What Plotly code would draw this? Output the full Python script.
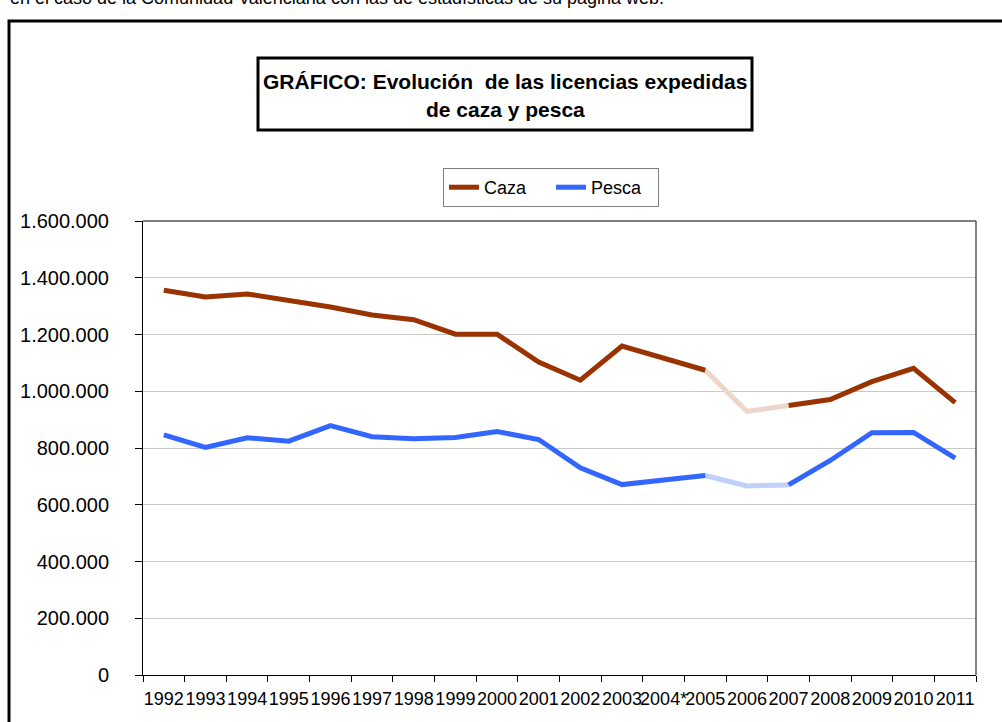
import plotly.graph_objects as go

years = ["1992", "1993", "1994", "1995", "1996", "1997", "1998", "1999", "2000", "2001",
         "2002", "2003", "2004*", "2005", "2006", "2007", "2008", "2009", "2010", "2011"]
caza = [1356000, 1332000, 1343000, 1321000, 1297000, 1269000, 1252000, 1201000, 1201000, 1103000,
        1039000, 1159000, 1117000, 1074000, 929000, 950000, 971000, 1034000, 1081000, 960000]
pesca = [846000, 802000, 836000, 824000, 879000, 840000, 833000, 837000, 858000, 830000,
         730000, 671000, 687000, 703000, 666000, 670000, 756000, 854000, 855000, 764000]
gap_years = ["2006"]
top_note = "en el caso de la Comunidad Valenciana con las de estadísticas de su página web."
title_1 = "GRÁFICO: Evolución  de las licencias expedidas"
title_2 = "de caza y pesca"

W, H = 1002, 722
L, R, T, B = 143, 976, 221, 675


def xp(px):
    return (px - L) / (R - L)


def yp(py):
    return (B - py) / (B - T)


gap_idx = [years.index(g) for g in gap_years]


def solid(vals):
    return [None if i in gap_idx else v for i, v in enumerate(vals)]


def faded(vals):
    keep = set()
    for g in gap_idx:
        keep.update({g - 1, g, g + 1})
    return [v if i in keep else None for i, v in enumerate(vals)]


CAZA_C = "#993300"
PESCA_C = "#3366FF"
FONT = "Liberation Sans, Arial, sans-serif"

fig = go.Figure()
fig.add_trace(go.Scatter(x=years, y=faded(caza), mode="lines", showlegend=False,
                         line=dict(color="#ecd6ca", width=5), hoverinfo="skip"))
fig.add_trace(go.Scatter(x=years, y=faded(pesca), mode="lines", showlegend=False,
                         line=dict(color="#c0d0fb", width=5), hoverinfo="skip"))
fig.add_trace(go.Scatter(x=years, y=solid(caza), mode="lines", name="Caza",
                         line=dict(color=CAZA_C, width=5), connectgaps=False))
fig.add_trace(go.Scatter(x=years, y=solid(pesca), mode="lines", name="Pesca",
                         line=dict(color=PESCA_C, width=5), connectgaps=False))

fig.update_layout(
    width=W, height=H,
    margin=dict(l=L, r=W - R, t=T, b=H - B, pad=0),
    paper_bgcolor="white", plot_bgcolor="white",
    font=dict(family=FONT, size=18, color="black"),
    separators=",.",
    showlegend=True,
    legend=dict(orientation="h", x=xp(443), y=yp(168), xanchor="left", yanchor="top",
                bordercolor="#808080", borderwidth=1, bgcolor="white",
                font=dict(size=18, family=FONT), itemwidth=30,
                entrywidth=62, entrywidthmode="pixels",
                tracegroupgap=0),
    xaxis=dict(type="category", range=[-0.5, len(years) - 0.5], automargin=False,
               tickson="boundaries", ticks="outside", ticklen=6,
               tickcolor="black", showline=True, linecolor="black", linewidth=1,
               showgrid=False, tickfont=dict(size=18), tickangle=0, ticklabelstandoff=7),
    yaxis=dict(range=[0, 1600000], dtick=200000, tickformat=",d", ticks="outside",
               automargin=False,
               ticklen=7, tickcolor="black", showline=True, linecolor="black",
               linewidth=1, showgrid=True, gridcolor="#c8c8c8", gridwidth=1,
               zeroline=False, tickfont=dict(size=20), ticklabelstandoff=22),
)

shapes = [
    # outer frame
    dict(type="rect", xref="paper", yref="paper", x0=xp(9), x1=xp(1006), y0=yp(726), y1=yp(21),
         line=dict(color="black", width=3), fillcolor="rgba(0,0,0,0)", layer="above"),
    # title box
    dict(type="rect", xref="paper", yref="paper", x0=xp(258), x1=xp(752), y0=yp(130), y1=yp(58),
         line=dict(color="black", width=3), fillcolor="white", layer="below"),
    # plot area top and right borders
    dict(type="line", xref="paper", yref="paper", x0=0, x1=1, y0=1, y1=1,
         line=dict(color="#555555", width=1.5)),
    dict(type="line", xref="paper", yref="paper", x0=1, x1=1, y0=0, y1=1,
         line=dict(color="#555555", width=1.5)),
]
fig.update_layout(shapes=shapes)

fig.add_annotation(text=title_1, xref="paper", yref="paper", x=xp(505), y=yp(82),
                   xanchor="center", yanchor="middle", showarrow=False,
                   font=dict(size=21, family=FONT, color="black", weight="bold"))
fig.add_annotation(text=title_2, xref="paper", yref="paper", x=xp(505), y=yp(109),
                   xanchor="center", yanchor="middle", showarrow=False,
                   font=dict(size=21, family=FONT, color="black", weight="bold"))
fig.add_annotation(text=top_note, xref="paper", yref="paper", x=xp(8), y=yp(10),
                   xanchor="left", yanchor="bottom", showarrow=False,
                   font=dict(size=18, family=FONT, color="black"))

fig.write_html("out.html", config={"displayModeBar": False},
               post_script="document.body.style.margin='0';")
